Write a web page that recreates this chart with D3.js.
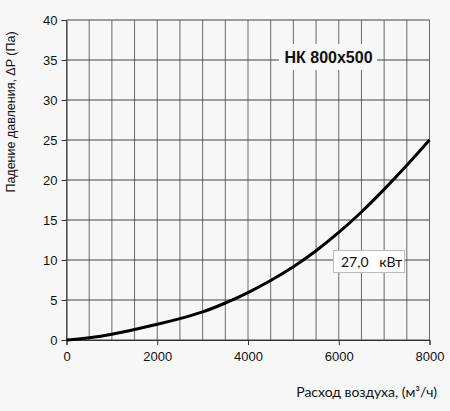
<!DOCTYPE html>
<html>
<head>
<meta charset="utf-8">
<script src="https://cdn.jsdelivr.net/npm/d3@7"></script>
<style>
  body { margin: 0; background: #f7f7f7; }
  svg { display: block; }
</style>
</head>
<body>
<svg id="chart"></svg>
<script>
'use strict';

// Airflow, m3/h
var flow = [0, 500, 1000, 1500, 2000, 2500, 3000, 3500, 4000, 4500, 5000, 5500, 6000, 6500, 7000, 7500, 8000];
// Pressure drop, Pa
var pressure = [0, 0.25, 0.68, 1.3, 1.95, 2.65, 3.45, 4.6, 5.9, 7.4, 9.1, 11.1, 13.4, 15.95, 18.8, 21.8, 25];

var x_ticks = [0, 2000, 4000, 6000, 8000];
var y_ticks = [0, 5, 10, 15, 20, 25, 30, 35, 40];
var x_grid = d3.range(0, 8001, 500);

var title_text = "НК 800x500";
var power_label = "27,0\u00a0\u00a0 кВт";
var x_label = "Расход воздуха, (м\u00b3/ч)";
var y_label = "Падение давления, \u0394P (Па)";

var width = 450, height = 411;
var margin = {left: 66.5, right: 20.5, top: 20, bottom: 71};

var svg = d3.select("#chart")
    .attr("width", width)
    .attr("height", height);

svg.append("rect")
    .attr("width", width)
    .attr("height", height)
    .attr("fill", "#f7f7f7");

var x = d3.scaleLinear()
    .domain([0, 8000])
    .range([margin.left, width - margin.right]);

var y = d3.scaleLinear()
    .domain([0, 40])
    .range([height - margin.bottom, margin.top]);

// grid
svg.append("g")
    .selectAll("line")
    .data(x_grid)
    .join("line")
    .attr("x1", d => x(d)).attr("x2", d => x(d))
    .attr("y1", y(0)).attr("y2", y(40))
    .attr("stroke", "#6a6a6a")
    .attr("stroke-width", 1);

svg.append("g")
    .selectAll("line")
    .data(y_ticks)
    .join("line")
    .attr("x1", x(0)).attr("x2", x(8000))
    .attr("y1", d => y(d)).attr("y2", d => y(d))
    .attr("stroke", "#444")
    .attr("stroke-width", 1);

// axes
var xAxis = svg.append("g")
    .attr("transform", "translate(0," + y(0) + ")")
    .call(d3.axisBottom(x).tickValues(x_ticks).tickSize(5).tickPadding(7).tickFormat(d3.format("d")));

var yAxis = svg.append("g")
    .attr("transform", "translate(" + x(0) + ",0)")
    .call(d3.axisLeft(y).tickValues(y_ticks).tickSize(5).tickPadding(4));

[xAxis, yAxis].forEach(function(a) {
    a.select(".domain").attr("stroke", "#333");
    a.selectAll(".tick line").attr("stroke", "#333");
    a.selectAll(".tick text")
        .attr("fill", "#111")
        .style("font-family", "'Liberation Sans', Arial, sans-serif")
        .style("font-size", "13px");
});

// title with background box
var title_g = svg.append("g");
title_g.append("rect")
    .attr("x", 279).attr("y", 44)
    .attr("width", 98).attr("height", 26)
    .attr("fill", "#f7f7f7");
title_g.append("text")
    .attr("x", 328.5).attr("y", 63)
    .attr("text-anchor", "middle")
    .style("font-family", "'Liberation Sans', Arial, sans-serif")
    .style("font-weight", "bold")
    .style("font-size", "16px")
    .attr("fill", "#111")
    .text(title_text);

// curve
var line = d3.line()
    .x((d, i) => x(flow[i]))
    .y(d => y(d))
    .curve(d3.curveBasis);

svg.append("path")
    .datum(pressure)
    .attr("d", line)
    .attr("fill", "none")
    .attr("stroke", "#000")
    .attr("stroke-width", 3);

// power label
var lbl = svg.append("g");
lbl.append("rect")
    .attr("x", 333.5).attr("y", 250.5)
    .attr("width", 71).attr("height", 22)
    .attr("fill", "#fff")
    .attr("stroke", "#bbb");
lbl.append("text")
    .attr("x", 341).attr("y", 266.5)
    .style("font-family", "Lato, 'Open Sans', sans-serif")
    .style("font-size", "14px")
    .attr("fill", "#111")
    .text(power_label);

// axis titles
svg.append("text")
    .attr("x", 437).attr("y", 397)
    .attr("text-anchor", "end")
    .style("font-family", "Lato, 'Open Sans', sans-serif")
    .style("font-size", "14px")
    .attr("fill", "#111")
    .text(x_label);

svg.append("text")
    .attr("transform", "translate(15,112) rotate(-90)")
    .attr("text-anchor", "middle")
    .style("font-family", "'Liberation Sans', Arial, sans-serif")
    .style("font-size", "12.5px")
    .attr("fill", "#111")
    .text(y_label);
</script>
</body>
</html>
